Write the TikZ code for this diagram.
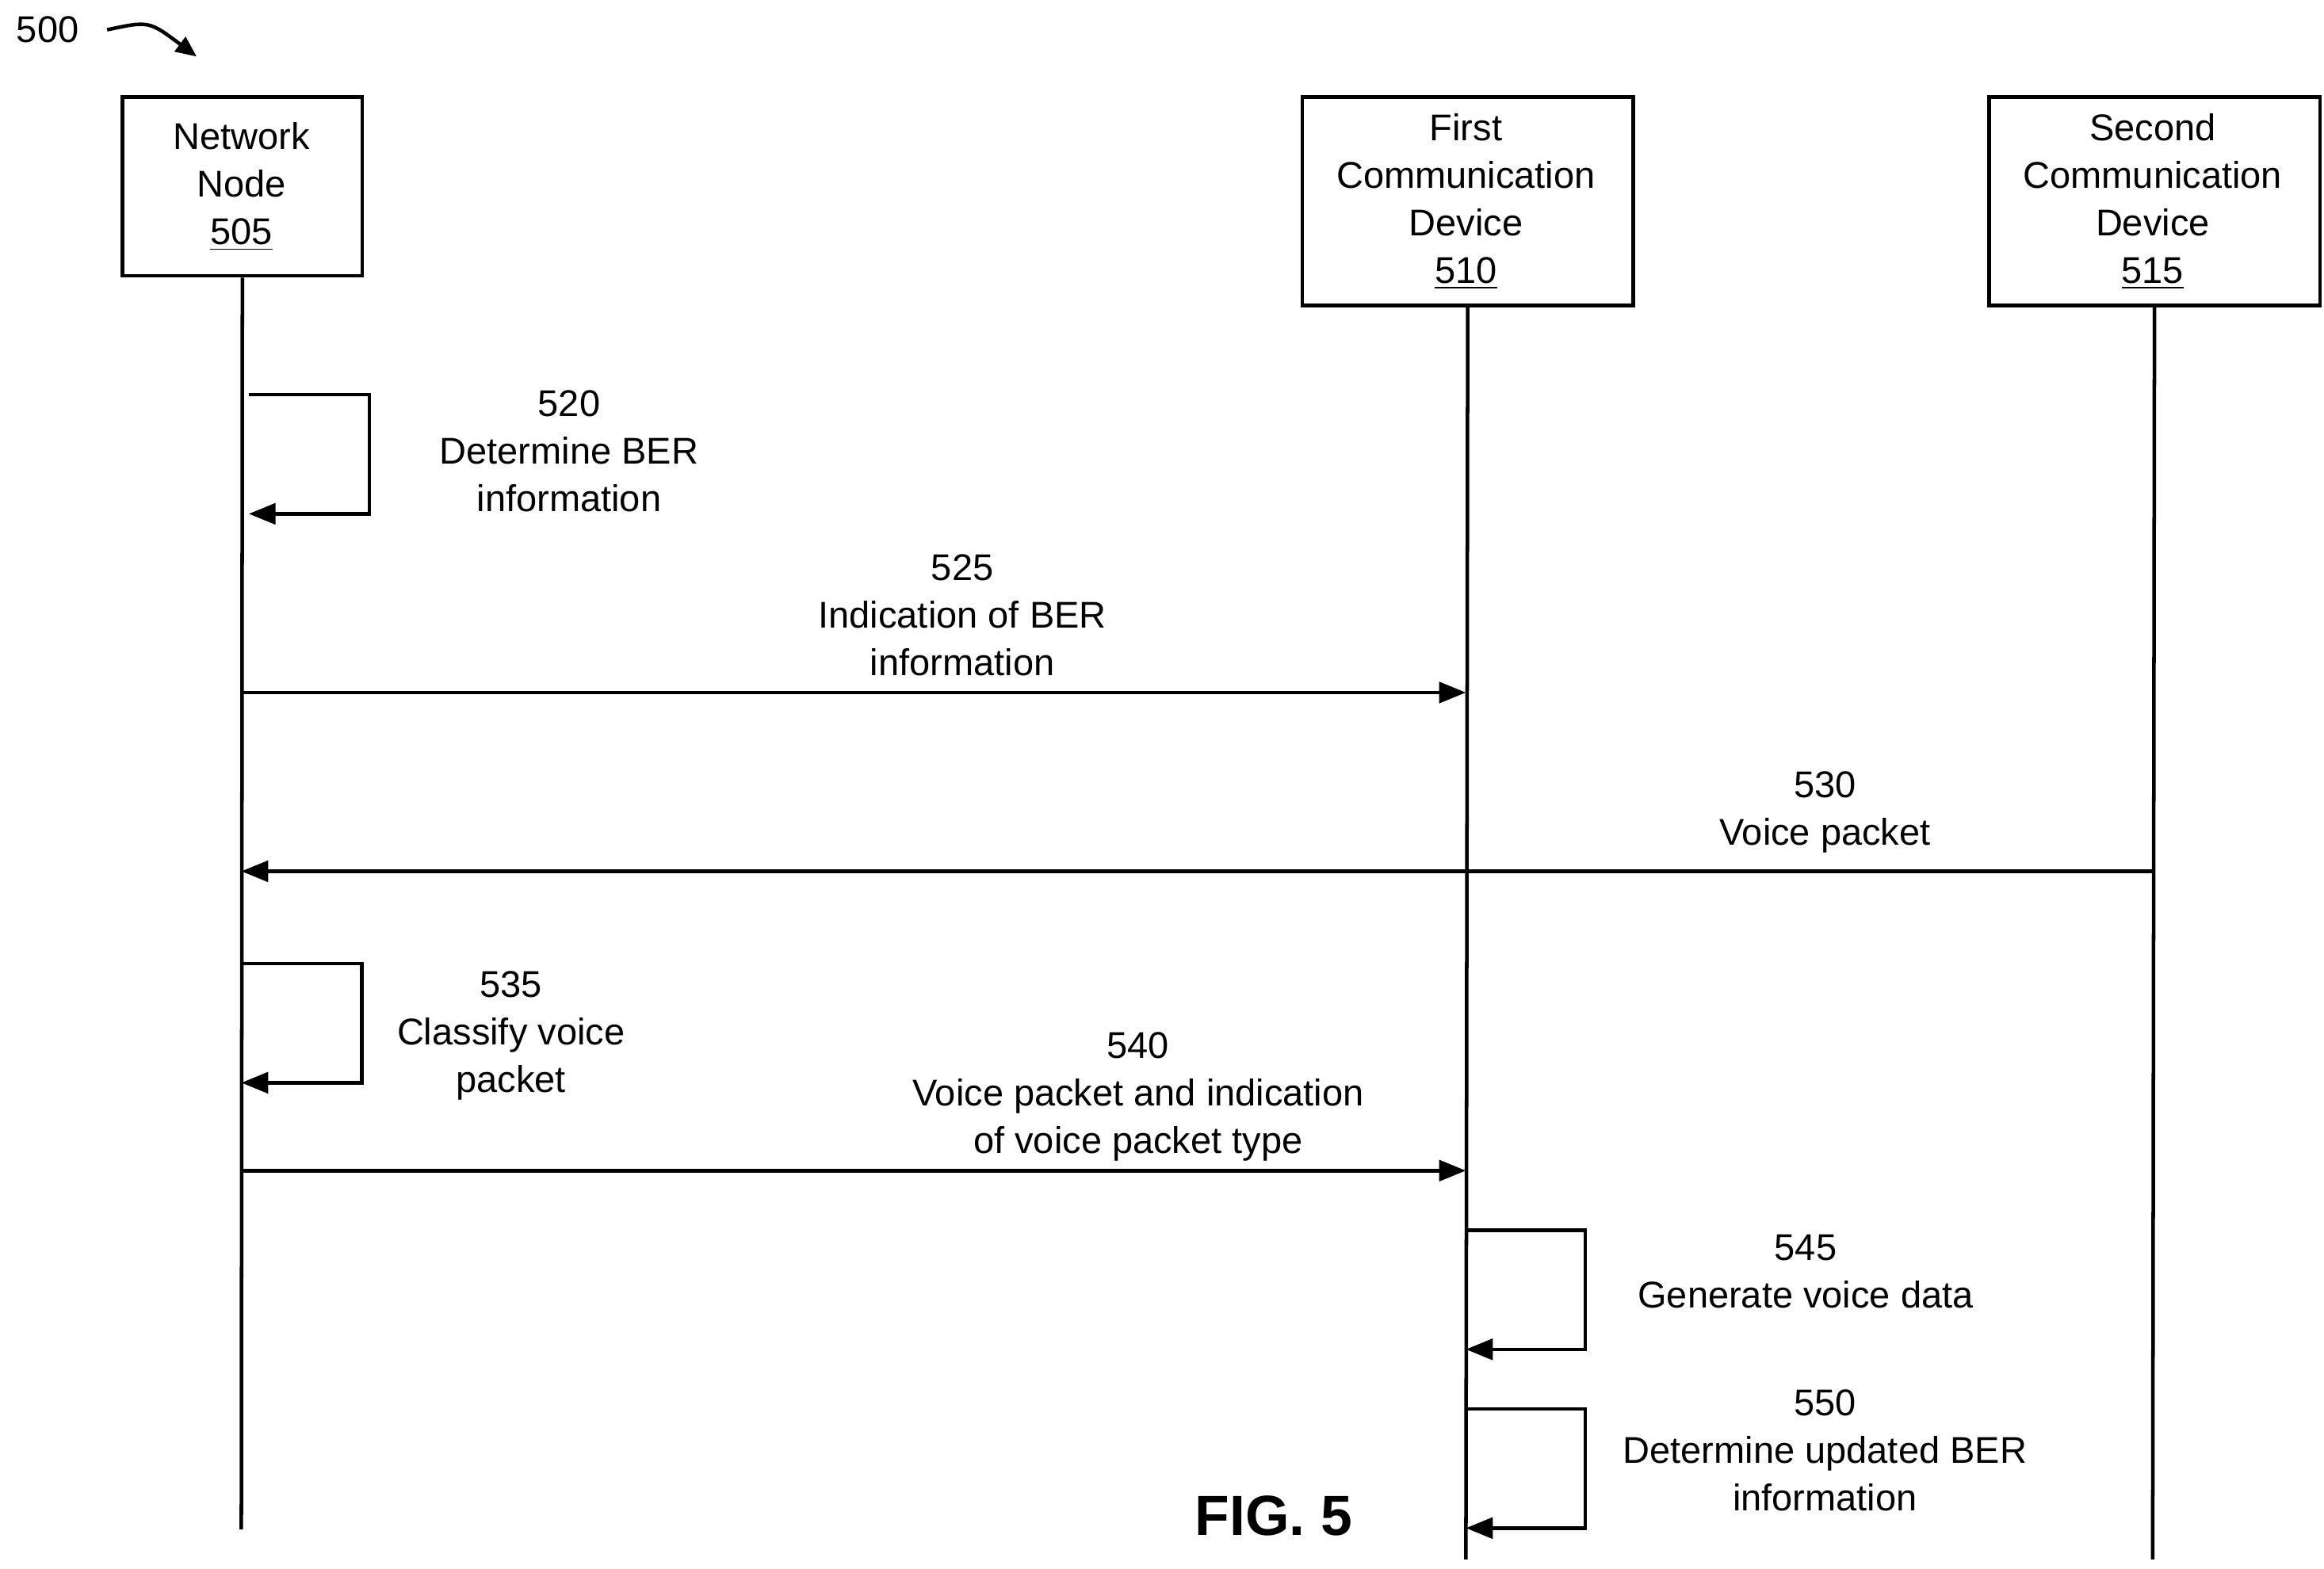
\documentclass[tikz,border=0pt]{standalone}
\usepackage{fontspec}
\setmainfont{Liberation Sans}
\usetikzlibrary{arrows.meta}
\begin{document}
\begin{tikzpicture}[x=0.5pt,y=-0.5pt,
 box/.style={draw,line width=1.2pt,anchor=north west,inner sep=0pt},
 life/.style={line width=1.2pt},
 msg/.style={line width=1.2pt,-{Triangle[length=9pt,width=7pt]}},
 lbl/.style={align=center,font=\fontsize{12.5}{16}\selectfont,anchor=north}]
\useasboundingbox (0,0) rectangle (1560,1053);
\node[box,minimum width=80.5pt,minimum height=60pt] (nn) at (81,64) {};
\node[box,minimum width=111pt,minimum height=70pt] (fd) at (873,64) {};
\node[box,minimum width=111pt,minimum height=70pt] (sd) at (1334,64) {};
\node[lbl] (nnt) at (162,75) {Network\\Node\\\underline{505}};
\node[lbl] (fdt) at (984,69) {First\\Communication\\Device\\\underline{510}};
\node[lbl] (sdt) at (1445,69) {Second\\Communication\\Device\\\underline{515}};
\coordinate (nnb) at (162,1027);
\coordinate (fdb) at (984,1047);
\coordinate (sdb) at (1445,1047);
\draw[life] (nn.south) -- (nnb);
\draw[life] (fd.south) -- (fdb);
\draw[life] (sd.south) -- (sdb);
% self loops
\draw[msg] (167,265) -- (248,265) -- (248,345) -- (167,345);
\draw[msg] (162,647) -- (243,647) -- (243,727) -- (162,727);
\draw[msg] (984,826) -- (1064,826) -- (1064,906) -- (984,906);
\draw[msg] (984,946) -- (1064,946) -- (1064,1026) -- (984,1026);
% messages
\coordinate (a1) at (162,465); \coordinate (b1) at (984,465);
\draw[msg] (a1) -- (b1);
\coordinate (a2) at (1445,585); \coordinate (b2) at (162,585);
\draw[msg] (a2) -- (b2);
\coordinate (a3) at (162,786); \coordinate (b3) at (984,786);
\draw[msg] (a3) -- (b3);
% labels
\node[lbl] (l520) at (382,255) {520\\Determine BER\\information};
\node[lbl] (l525) at (646,365) {525\\Indication of BER\\information};
\node[lbl] (l530) at (1225,511) {530\\Voice packet};
\node[lbl] (l535) at (343,645) {535\\Classify voice\\packet};
\node[lbl] (l540) at (764,686) {540\\Voice packet and indication\\of voice packet type};
\node[lbl] (l545) at (1212,822) {545\\Generate voice data};
\node[lbl] (l550) at (1225,926) {550\\Determine updated BER\\information};
\node[font=\fontsize{19}{22}\selectfont\bfseries] (fig) at (855,1018) {FIG. 5};
\node[font=\fontsize{12.5}{15}\selectfont] (n500) at (32,20) {500};
\coordinate (c500) at (132,38);
\draw[line width=1.2pt,-{Triangle[length=7pt,width=6pt]}] (n500.east) ++(12,0) .. controls (100,14) .. (c500);
\end{tikzpicture}
\end{document}
